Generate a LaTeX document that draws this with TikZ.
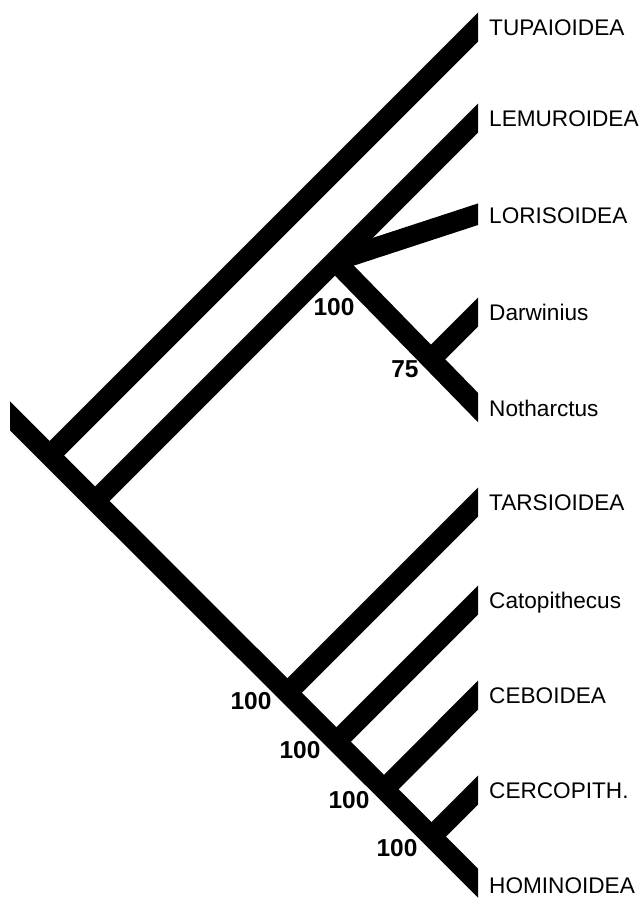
\documentclass[tikz,border=0pt]{standalone}
\usepackage{fontspec}
\setmainfont{Liberation Sans}
\begin{document}
\begin{tikzpicture}[x=1pt,y=-1pt,
  br/.style={line width=20.5pt,line cap=butt,black},
  lab/.style={anchor=west,inner sep=0pt,font=\fontsize{22.6}{24}\selectfont,text height=16.2pt,text depth=0pt},
  sup/.style={inner sep=0pt,font=\bfseries\fontsize{24.5}{26}\selectfont}]
\useasboundingbox (0,0) rectangle (642,898);
% tips (extended past the cut line at x=478)
\coordinate (root) at (-10,396);
\coordinate (tupai) at (498,7);
\coordinate (lemur) at (498,98);
\coordinate (loris) at (497,208);
\coordinate (darw) at (498,292);
\coordinate (noth) at (498,428);
\coordinate (tars) at (498,482);
\coordinate (cato) at (498,580);
\coordinate (cebo) at (498,675);
\coordinate (cerc) at (498,770);
\coordinate (homi) at (498,903);
% internal nodes
\coordinate (n1) at (49.5,455.5);
\coordinate (n2) at (95,501);
\coordinate (n3) at (335,261);
\coordinate (n4) at (432,358);
\coordinate (n5) at (287,693);
\coordinate (n6) at (336,742);
\coordinate (n7) at (383.5,790);
\coordinate (n8) at (431,837);
\begin{scope}
\clip (10,0) rectangle (478,898);
\draw[br] (root) -- (homi);
\draw[br] (n1) -- (tupai);
\draw[br] (n2) -- (lemur);
\draw[br] (n3) -- (loris);
\draw[br] (n3) -- (noth);
\draw[br] (n4) -- (darw);
\draw[br] (n5) -- (tars);
\draw[br] (n6) -- (cato);
\draw[br] (n7) -- (cebo);
\draw[br] (n8) -- (cerc);
\end{scope}
% labels
\node[lab] (lt) at (489,27) {TUPAIOIDEA};
\node[lab] (ll) at (489,118) {LEMUROIDEA};
\node[lab] (lo) at (489,215) {LORISOIDEA};
\node[lab] (ld) at (489,312) {Darwinius};
\node[lab] (ln) at (489,408) {Notharctus};
\node[lab] (lta) at (489,502) {TARSIOIDEA};
\node[lab] (lc) at (489,600) {Catopithecus};
\node[lab] (lce) at (489,695) {CEBOIDEA};
\node[lab] (lcr) at (489,790) {CERCOPITH.};
\node[lab] (lh) at (489,885) {HOMINOIDEA};
% support values
\node[sup] (s3) at (334,307) {100};
\node[sup] (s4) at (405,369) {75};
\node[sup] (s5) at (251,701) {100};
\node[sup] (s6) at (300,750) {100};
\node[sup] (s7) at (349,800) {100};
\node[sup] (s8) at (397,848) {100};
\end{tikzpicture}
\end{document}
